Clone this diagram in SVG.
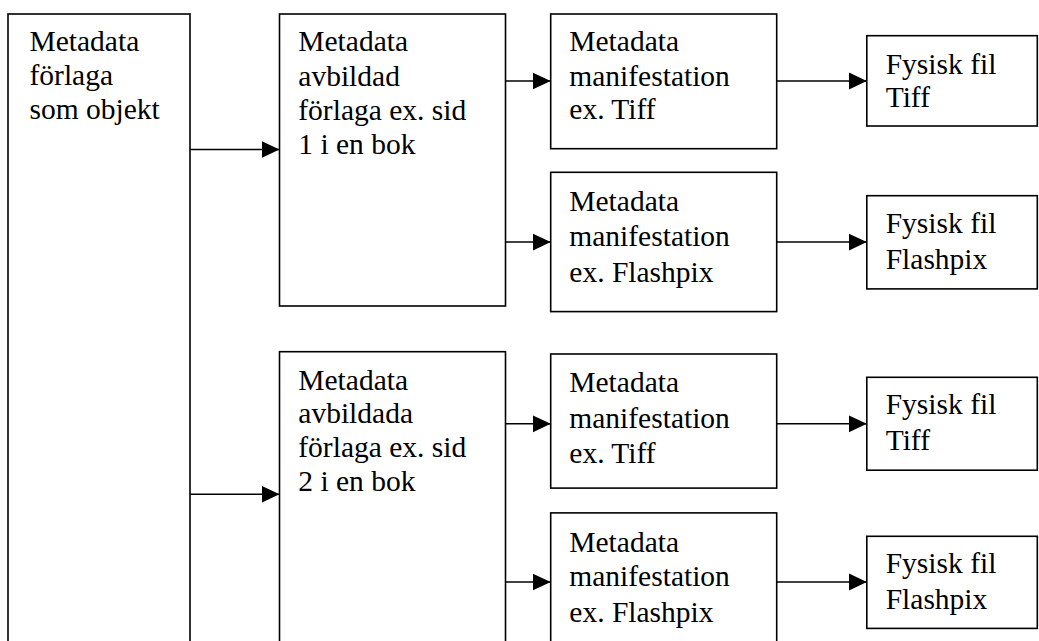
<svg xmlns="http://www.w3.org/2000/svg" width="1039" height="641" viewBox="0 0 1039 641">
<style>
.box{fill:#fff;stroke:#000;stroke-width:1.6}
.t{font-family:'Liberation Serif','Times New Roman',Times,serif;font-size:29.5px;fill:#000}
.c{stroke:#000;stroke-width:1.5;fill:none}
</style>
<defs>
<marker id="ah" markerWidth="18" markerHeight="18" viewBox="0 0 18 18" refX="18" refY="9" markerUnits="userSpaceOnUse" orient="auto">
<path d="M0,0.5 L18,9 L0,17.5 Z" fill="#000"/>
</marker>
</defs>
<rect width="1039" height="641" fill="#fff"/>
<g id="nA"><rect class="box" x="8" y="14" width="182" height="660"/>
<text class="t"><tspan x="29.5" y="50.7">Metadata</tspan><tspan x="29.5" y="85">förlaga</tspan><tspan x="29.5" y="119.3">som objekt</tspan></text></g>
<g id="nB1"><rect class="box" x="279.5" y="14" width="226" height="292"/>
<text class="t"><tspan x="298.3" y="50.7">Metadata</tspan><tspan x="298.3" y="86">avbildad</tspan><tspan x="298.3" y="119.5">förlaga ex. sid</tspan><tspan x="298.3" y="154">1 i en bok</tspan></text></g>
<g id="nB2"><rect class="box" x="279.5" y="351.7" width="226" height="320"/>
<text class="t"><tspan x="298.3" y="390">Metadata</tspan><tspan x="298.3" y="423.3">avbildada</tspan><tspan x="298.3" y="456.7">förlaga ex. sid</tspan><tspan x="298.3" y="490.5">2 i en bok</tspan></text></g>
<g id="nC1"><rect class="box" x="550.7" y="14" width="226" height="134.7"/>
<text class="t"><tspan x="569.3" y="50.7">Metadata</tspan><tspan x="569.3" y="86">manifestation</tspan><tspan x="569.3" y="119.3">ex. Tiff</tspan></text></g>
<g id="nC2"><rect class="box" x="550.7" y="172.3" width="226" height="139.3"/>
<text class="t"><tspan x="569.3" y="210.8">Metadata</tspan><tspan x="569.3" y="246.3">manifestation</tspan><tspan x="569.3" y="281.7">ex. Flashpix</tspan></text></g>
<g id="nC3"><rect class="box" x="550.7" y="354" width="226" height="134.1"/>
<text class="t"><tspan x="569.3" y="392.1">Metadata</tspan><tspan x="569.3" y="427.9">manifestation</tspan><tspan x="569.3" y="463.3">ex. Tiff</tspan></text></g>
<g id="nC4"><rect class="box" x="550.7" y="512.9" width="226" height="160"/>
<text class="t"><tspan x="569.3" y="551.7">Metadata</tspan><tspan x="569.3" y="586.1">manifestation</tspan><tspan x="569.3" y="622.2">ex. Flashpix</tspan></text></g>
<g id="nD1"><rect class="box" x="866.8" y="35.7" width="170.5" height="90.3"/>
<text class="t"><tspan x="885.7" y="74">Fysisk fil</tspan><tspan x="885.7" y="107.3">Tiff</tspan></text></g>
<g id="nD2"><rect class="box" x="866.8" y="195.7" width="170.5" height="93.2"/>
<text class="t"><tspan x="885.7" y="233.2">Fysisk fil</tspan><tspan x="885.7" y="269.3">Flashpix</tspan></text></g>
<g id="nD3"><rect class="box" x="866.8" y="377.3" width="170.5" height="92.9"/>
<text class="t"><tspan x="885.7" y="414">Fysisk fil</tspan><tspan x="885.7" y="450.2">Tiff</tspan></text></g>
<g id="nD4"><rect class="box" x="866.8" y="536.3" width="170.5" height="92.1"/>
<text class="t"><tspan x="885.7" y="573.4">Fysisk fil</tspan><tspan x="885.7" y="609.1">Flashpix</tspan></text></g>
<g id="connectors">
<line class="c" x1="190" y1="149.5" x2="279.5" y2="149.5" marker-end="url(#ah)"/>
<line class="c" x1="190" y1="494.3" x2="279.5" y2="494.3" marker-end="url(#ah)"/>
<line class="c" x1="505.5" y1="81" x2="550.7" y2="81" marker-end="url(#ah)"/>
<line class="c" x1="505.5" y1="242.1" x2="550.7" y2="242.1" marker-end="url(#ah)"/>
<line class="c" x1="505.5" y1="423.8" x2="550.7" y2="423.8" marker-end="url(#ah)"/>
<line class="c" x1="505.5" y1="582" x2="550.7" y2="582" marker-end="url(#ah)"/>
<line class="c" x1="776.7" y1="81" x2="866.8" y2="81" marker-end="url(#ah)"/>
<line class="c" x1="776.7" y1="242.1" x2="866.8" y2="242.1" marker-end="url(#ah)"/>
<line class="c" x1="776.7" y1="423.8" x2="866.8" y2="423.8" marker-end="url(#ah)"/>
<line class="c" x1="776.7" y1="582" x2="866.8" y2="582" marker-end="url(#ah)"/>
</g>
</svg>
